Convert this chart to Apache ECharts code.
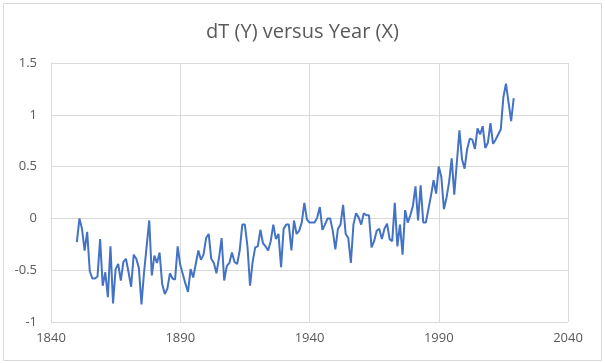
<!DOCTYPE html>
<html>
<head>
<meta charset="utf-8">
<script src="https://cdn.jsdelivr.net/npm/echarts@6/dist/echarts.min.js"></script>
<style>
html,body{margin:0;padding:0;background:#fff;}
#chart{width:605px;height:363px;}
</style>
</head>
<body>
<div id="chart"></div>
<script>
var title = 'dT (Y) versus Year (X)';
var startYear = 1850;
var dT = [
  -0.23, 0.00, -0.10, -0.31, -0.13, -0.51, -0.58, -0.58, -0.56, -0.20,
  -0.65, -0.52, -0.76, -0.27, -0.82, -0.49, -0.44, -0.60, -0.42, -0.39,
  -0.52, -0.66, -0.35, -0.39, -0.48, -0.83, -0.52, -0.27, -0.02, -0.55,
  -0.36, -0.43, -0.33, -0.63, -0.73, -0.68, -0.53, -0.58, -0.59, -0.27,
  -0.45, -0.54, -0.63, -0.71, -0.49, -0.57, -0.44, -0.31, -0.40, -0.35,
  -0.19, -0.15, -0.39, -0.43, -0.53, -0.38, -0.19, -0.60, -0.46, -0.43,
  -0.33, -0.42, -0.44, -0.31, -0.06, -0.06, -0.27, -0.65, -0.42, -0.28,
  -0.27, -0.11, -0.24, -0.27, -0.31, -0.22, -0.06, -0.20, -0.15, -0.47,
  -0.10, -0.06, -0.06, -0.31, -0.02, -0.15, -0.12, -0.04, 0.15, -0.01,
  -0.04, -0.04, -0.04, 0.01, 0.11, -0.11, -0.06, 0.00, 0.00, -0.12,
  -0.30, -0.10, -0.06, 0.13, -0.15, -0.19, -0.43, -0.06, 0.05, 0.01,
  -0.06, 0.05, 0.03, 0.03, -0.28, -0.22, -0.12, -0.10, -0.20, -0.10,
  -0.05, -0.20, -0.22, 0.15, -0.27, -0.06, -0.35, 0.08, -0.04, 0.03,
  0.12, 0.31, -0.02, 0.32, -0.04, -0.04, 0.09, 0.22, 0.37, 0.24,
  0.50, 0.40, 0.09, 0.20, 0.35, 0.58, 0.23, 0.54, 0.85, 0.57,
  0.48, 0.67, 0.77, 0.76, 0.67, 0.87, 0.81, 0.89, 0.68, 0.73,
  0.92, 0.72, 0.76, 0.81, 0.86, 1.17, 1.30, 1.12, 0.94, 1.16
];
var years = dT.map(function (v, i) { return startYear + i; });
var xTicks = [1840, 1890, 1940, 1990, 2040];
var yTicks = [-1, -0.5, 0, 0.5, 1, 1.5];

var seriesData = years.map(function (y, i) { return [y, dT[i]]; });

var chart = echarts.init(document.getElementById('chart'), null, {renderer: 'canvas'});
var font = '"Open Sans", "Liberation Sans", sans-serif';
chart.setOption({
  animation: false,
  backgroundColor: '#ffffff',
  title: {
    text: title,
    left: 'center',
    top: 17,
    textStyle: {color: '#595959', fontSize: 20, fontWeight: 'normal', fontFamily: font}
  },
  grid: {left: 51, right: 37, top: 63, bottom: 41, containLabel: false},
  xAxis: {
    type: 'value',
    min: xTicks[0],
    max: xTicks[xTicks.length - 1],
    interval: 50,
    axisLine: {show: true, lineStyle: {color: '#d9d9d9', width: 1}},
    axisTick: {show: false},
    axisLabel: {color: '#595959', fontSize: 13, fontFamily: font, margin: 10,
      formatter: function (v) { return String(v); }},
    splitLine: {show: true, lineStyle: {color: '#d9d9d9', width: 1}}
  },
  yAxis: {
    type: 'value',
    min: yTicks[0],
    max: yTicks[yTicks.length - 1],
    interval: 0.5,
    axisLine: {show: true, lineStyle: {color: '#d9d9d9', width: 1}},
    axisTick: {show: false},
    axisLabel: {color: '#595959', fontSize: 13, fontFamily: font, margin: 14,
      formatter: function (v) { return String(v); }},
    splitLine: {show: true, lineStyle: {color: '#d9d9d9', width: 1}}
  },
  graphic: [{
    type: 'rect',
    shape: {x: 3.5, y: 3.5, width: 598, height: 357},
    style: {fill: 'none', stroke: '#d9d9d9', lineWidth: 1},
    silent: true
  }],
  series: [{
    type: 'line',
    data: seriesData,
    showSymbol: false,
    symbol: 'none',
    lineStyle: {color: '#4472C4', width: 2},
    itemStyle: {color: '#4472C4'}
  }]
});
</script>
</body>
</html>
